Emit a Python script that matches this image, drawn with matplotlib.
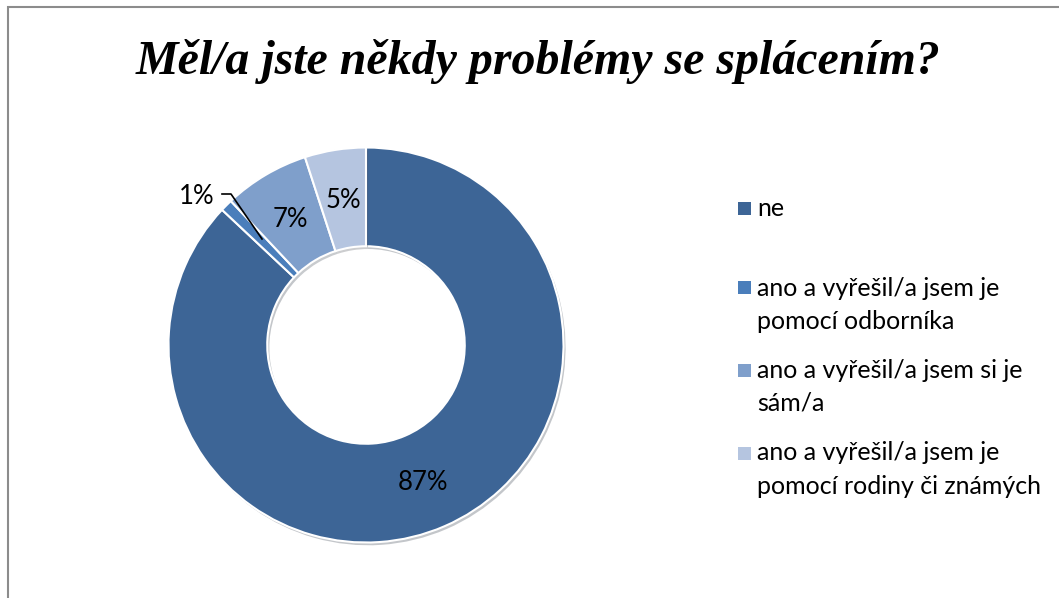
import matplotlib.pyplot as plt
from matplotlib.patches import Rectangle
import matplotlib.patheffects as pe

# ===== Data =====
categories = ["ne",
              "ano a vyřešil/a jsem je\npomocí odborníka",
              "ano a vyřešil/a jsem si je\nsám/a",
              "ano a vyřešil/a jsem je\npomocí rodiny či známých"]
values = [87, 1, 7, 5]
pct_labels = ["87%", "1%", "7%", "5%"]
colors = ["#3D6596", "#4A7EBB", "#7F9FCB", "#B5C5E0"]
title = "Měl/a jste někdy problémy se splácením?"

font_name = "Lato"

# ===== Figure =====
fig = plt.figure(figsize=(10.59, 5.98), dpi=100)
fig.patches.append(Rectangle((8 / 1059, -0.1), 1.2, (598 - 7) / 598 + 0.1,
                             transform=fig.transFigure, fill=False,
                             edgecolor="#8C8C8C", linewidth=1.5))

# pie axes: centre (366, 345), radius ~197 px
r_px = 197.5
cx, cy = 366, 345
ax = fig.add_axes([(cx - r_px) / 1059, (598 - cy - r_px) / 598,
                   2 * r_px / 1059, 2 * r_px / 598])

wedges, _ = ax.pie(values, colors=colors, startangle=90, counterclock=False,
                   radius=1.0, wedgeprops=dict(width=0.5, edgecolor="white", linewidth=1.5))
for w in wedges:
    w.set_path_effects([pe.SimplePatchShadow(offset=(1.5, -2), alpha=0.25), pe.Normal()])
ax.set_xlim(-1, 1)
ax.set_ylim(-1, 1)
ax.set_aspect("equal")
ax.axis("off")

# ===== Data labels (placed by pixel position from reference) =====
def px(x, y):
    return ((x - cx) / r_px, (cy - y) / r_px)

label_pos = [(423, 482), (197, 197), (290, 220), (343, 200)]
for lab, (x, y) in zip(pct_labels, label_pos):
    ax.text(*px(x, y), lab, ha="center", va="center", fontsize=18.5,
            fontname=font_name, color="black")

# leader line for 1%
lx = [px(222, 194)[0], px(231, 194)[0], px(262, 239)[0]]
ly = [px(222, 194)[1], px(231, 194)[1], px(262, 239)[1]]
ax.plot(lx, ly, color="black", linewidth=1.2, clip_on=False)

# ===== Title =====
fig.text(538 / 1059, 1 - 61 / 598, title, ha="center", va="center",
         fontsize=34.5, fontname="Liberation Serif", fontweight="bold", style="italic")

# ===== Legend (manual) =====
legend_y = [209, 288, 370, 453]
for cat, col, y in zip(categories, colors, legend_y):
    fig.patches.append(Rectangle((738 / 1059, 1 - (y + 6.5) / 598), 13 / 1059, 13 / 598,
                                 transform=fig.transFigure, facecolor=col, edgecolor="none"))
    fig.text(757 / 1059, 1 - (y - 11.5) / 598, cat, ha="left", va="top",
             fontsize=18, fontname=font_name, linespacing=1.55)

plt.savefig("out.png", dpi=100)
